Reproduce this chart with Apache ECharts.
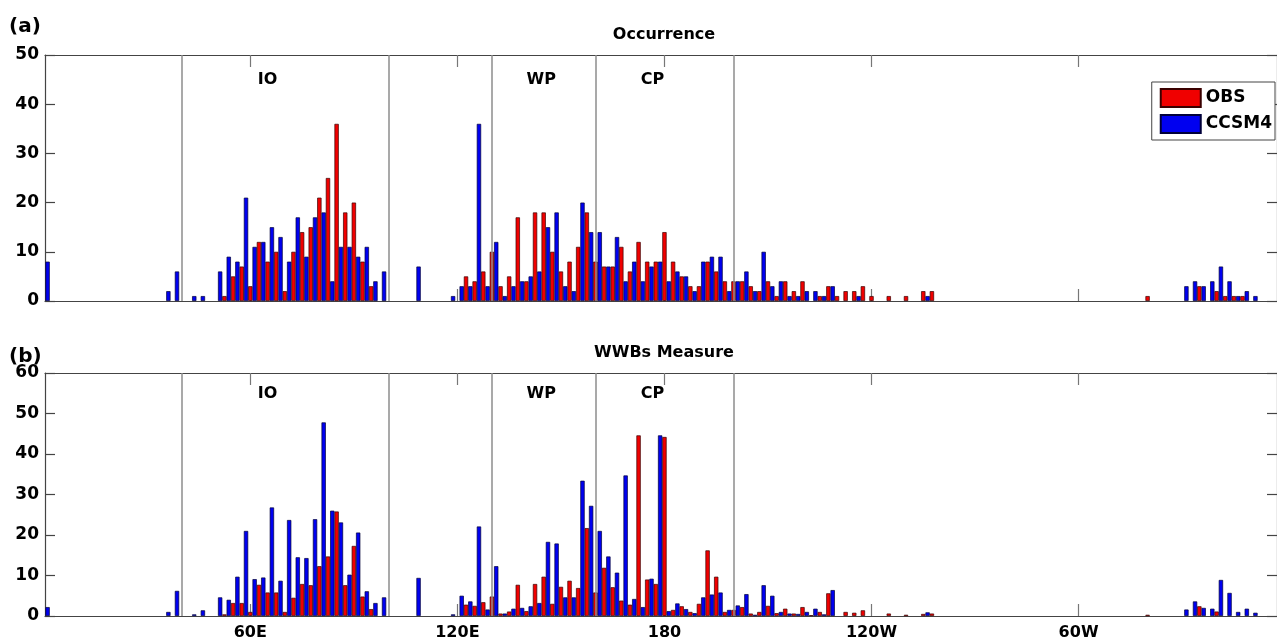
<!DOCTYPE html>
<html>
<head>
<meta charset="utf-8">
<script src="https://cdn.jsdelivr.net/npm/echarts@6/dist/echarts.min.js"></script>
<style>
  html, body { margin: 0; padding: 0; background: #fff; }
  #chart { width: 1277px; height: 641px; }
</style>
</head>
<body>
<div id="chart"></div>
<script>
// Longitude bins: 2.5 degree wide, first bin starts at 0E, 144 bins round the globe.
const binStart = 0;
const binStep = 2.5;

// x-axis ticks (degrees east) and their labels
const tickValues = [60, 120, 180, 240, 300];
const tickLabels = ['60E', '120E', '180', '120W', '60W'];

// Region boundaries (degrees east) and region names
const regionBounds = [40, 100, 130, 160, 200];
const regionNames = ['IO', 'WP', 'CP'];

// (a) Occurrence, observations, one value per bin (12 bins = 30 degrees per row)
const occObs = [
  0, 0, 0, 0, 0, 0, 0, 0, 0, 0, 0, 0,
  0, 0, 0, 0, 0, 0, 0, 0, 0, 1, 5, 7,
  3, 12, 8, 10, 2, 10, 14, 15, 21, 25, 36, 18,
  20, 8, 3, 0, 0, 0, 0, 0, 0, 0, 0, 0,
  0, 5, 4, 6, 10, 3, 5, 17, 4, 18, 18, 10,
  6, 8, 11, 18, 8, 7, 7, 11, 6, 12, 8, 8,
  14, 8, 5, 3, 3, 8, 6, 4, 4, 4, 3, 2,
  4, 1, 4, 2, 4, 0, 1, 3, 1, 2, 2, 3,
  1, 0, 1, 0, 1, 0, 2, 2, 0, 0, 0, 0,
  0, 0, 0, 0, 0, 0, 0, 0, 0, 0, 0, 0,
  0, 0, 0, 0, 0, 0, 0, 0, 1, 0, 0, 0,
  0, 0, 3, 0, 2, 1, 1, 1, 0, 0, 0, 0
];

// (a) Occurrence, CCSM4
const occCcsm = [
  8, 0, 0, 0, 0, 0, 0, 0, 0, 0, 0, 0,
  0, 0, 2, 6, 0, 1, 1, 0, 6, 9, 8, 21,
  11, 12, 15, 13, 8, 17, 9, 17, 18, 4, 11, 11,
  9, 11, 4, 6, 0, 0, 0, 7, 0, 0, 0, 1,
  3, 3, 36, 3, 12, 1, 3, 4, 5, 6, 15, 18,
  3, 2, 20, 14, 14, 7, 13, 4, 8, 4, 7, 8,
  4, 6, 5, 2, 8, 9, 9, 2, 4, 6, 2, 10,
  3, 4, 1, 1, 2, 2, 1, 3, 0, 0, 1, 0,
  0, 0, 0, 0, 0, 0, 1, 0, 0, 0, 0, 0,
  0, 0, 0, 0, 0, 0, 0, 0, 0, 0, 0, 0,
  0, 0, 0, 0, 0, 0, 0, 0, 0, 0, 0, 0,
  3, 4, 3, 4, 7, 4, 1, 2, 1, 0, 0, 0
];

// (b) WWBs measure, observations
const wwbObs = [
  0, 0, 0, 0, 0, 0, 0, 0, 0, 0, 0, 0,
  0, 0, 0, 0, 0, 0, 0, 0, 0, 0.4, 3.2, 3.2,
  1.0, 7.7, 5.8, 5.8, 1.0, 4.5, 7.9, 7.6, 12.3, 14.7, 25.8, 7.6,
  17.3, 4.8, 1.7, 0, 0, 0, 0, 0, 0, 0, 0, 0,
  0, 2.8, 2.5, 3.4, 4.8, 0.6, 1.1, 7.7, 1.2, 7.9, 9.7, 3.0,
  7.2, 8.7, 6.9, 21.7, 5.8, 11.9, 7.1, 3.8, 2.8, 44.6, 9.0, 7.9,
  44.2, 1.5, 2.4, 1.0, 3.0, 16.2, 9.7, 1.0, 1.5, 2.2, 0.6, 1.0,
  2.5, 0.7, 1.8, 0.6, 2.2, 0.2, 1.0, 5.6, 0, 1.0, 0.8, 1.4,
  0, 0, 0.6, 0, 0.3, 0, 0.5, 0.6, 0, 0, 0, 0,
  0, 0, 0, 0, 0, 0, 0, 0, 0, 0, 0, 0,
  0, 0, 0, 0, 0, 0, 0, 0, 0.3, 0, 0, 0,
  0, 0, 2.4, 0, 1.1, 0, 0, 0, 0, 0, 0, 0
];

// (b) WWBs measure, CCSM4
const wwbCcsm = [
  2.2, 0, 0, 0, 0, 0, 0, 0, 0, 0, 0, 0,
  0, 0, 1.0, 6.2, 0, 0.4, 1.4, 0, 4.6, 4.0, 9.7, 21.0,
  9.1, 9.5, 26.8, 8.7, 23.7, 14.5, 14.3, 23.9, 47.8, 26.0, 23.1, 10.2,
  20.6, 6.1, 3.2, 4.6, 0, 0, 0, 9.4, 0, 0, 0, 0.4,
  5.0, 3.6, 22.1, 1.6, 12.3, 0.6, 1.8, 2.0, 2.4, 3.2, 18.3, 17.9,
  4.6, 4.6, 33.4, 27.2, 21.0, 14.7, 10.7, 34.7, 4.2, 2.2, 9.2, 44.6,
  1.2, 3.1, 1.7, 0.7, 4.6, 5.3, 5.8, 1.5, 2.6, 5.4, 0.3, 7.6,
  5.0, 1.0, 0.6, 0.5, 1.0, 1.8, 0.4, 6.4, 0, 0, 0, 0,
  0, 0, 0, 0, 0, 0, 0.9, 0, 0, 0, 0, 0,
  0, 0, 0, 0, 0, 0, 0, 0, 0, 0, 0, 0,
  0, 0, 0, 0, 0, 0, 0, 0, 0, 0, 0, 0,
  1.6, 3.6, 2.0, 1.8, 8.9, 5.7, 1.0, 1.8, 0.8, 0, 0, 0
];

// ---- layout / styling ----
const FONT = '"DejaVu Sans", "Liberation Sans", Arial, sans-serif';
const X_MIN = 0.5, X_MAX = 357.5;
const AXIS_COLOR = '#444';
const TICK_COLOR = '#777';
const panels = [
  { title: 'Occurrence', tag: '(a)', obs: occObs, ccsm: occCcsm, yMax: 50,
    top: 55, height: 246, titleY: 35, tagY: 27, labelY: 45, showXLabels: false },
  { title: 'WWBs Measure', tag: '(b)', obs: wwbObs, ccsm: wwbCcsm, yMax: 60,
    top: 373, height: 246, titleY: 353, tagY: 357, labelY: 54.8, showXLabels: true }
];
// region label anchors (degrees east)
const regionLabelLon = [65, 144.3, 176.5];

// Each bin pair is placed so the OBS bar sits on the bin start and the CCSM4 bar just east of it.
function toSeriesData(values) {
  return values.map((v, i) => [binStart + i * binStep + binStep / 4, v > 0 ? v : '-']);
}

const grids = [], xAxes = [], yAxes = [], series = [], graphics = [];

panels.forEach((p, gi) => {
  grids.push({ left: 45, top: p.top, width: 1237.7, height: p.height, containLabel: false });

  // bottom axis (ticks + labels)
  xAxes.push({
    type: 'value', gridIndex: gi, position: 'bottom', min: X_MIN, max: X_MAX,
    splitLine: { show: false },
    axisLine: { show: true, onZero: false, lineStyle: { color: AXIS_COLOR, width: 1.2 } },
    axisTick: { show: true, inside: true, length: 12, customValues: tickValues,
                lineStyle: { color: TICK_COLOR, width: 1.2 } },
    axisLabel: { show: p.showXLabels, customValues: tickValues, margin: 9,
                 formatter: v => tickLabels[tickValues.indexOf(v)],
                 color: '#000', fontFamily: FONT, fontWeight: 'bold', fontSize: 16 }
  });
  // top frame axis
  xAxes.push({
    type: 'value', gridIndex: gi, position: 'top', min: X_MIN, max: X_MAX,
    splitLine: { show: false },
    axisLine: { show: true, onZero: false, lineStyle: { color: AXIS_COLOR, width: 1.2 } },
    axisTick: { show: true, inside: true, length: 12, customValues: tickValues,
                lineStyle: { color: TICK_COLOR, width: 1.2 } },
    axisLabel: { show: false }
  });
  // left axis
  yAxes.push({
    type: 'value', gridIndex: gi, position: 'left', min: 0, max: p.yMax, interval: 10,
    splitLine: { show: false },
    axisLine: { show: true, onZero: false, lineStyle: { color: AXIS_COLOR, width: 1.2 } },
    axisTick: { show: true, inside: true, length: 10, lineStyle: { color: AXIS_COLOR, width: 1.2 } },
    axisLabel: { margin: 6, color: '#000', fontFamily: FONT, fontWeight: 'bold', fontSize: 17 }
  });
  // right frame axis
  yAxes.push({
    type: 'value', gridIndex: gi, position: 'right', min: 0, max: p.yMax, interval: 10,
    splitLine: { show: false },
    axisLine: { show: true, onZero: false, lineStyle: { color: AXIS_COLOR, width: 1.2 } },
    axisTick: { show: true, inside: true, length: 10, lineStyle: { color: AXIS_COLOR, width: 1.2 } },
    axisLabel: { show: false }
  });

  const xi = gi * 2, yi = gi * 2;

  // region boundaries
  series.push({
    type: 'line', xAxisIndex: xi, yAxisIndex: yi, z: 1, silent: true,
    data: [],
    markLine: {
      silent: true, symbol: ['none', 'none'], label: { show: false },
      lineStyle: { color: '#8c8c8c', width: 1.5, type: 'solid' },
      emphasis: { disabled: true },
      data: regionBounds.map(v => ({ xAxis: v }))
    }
  });

  series.push({
    name: 'OBS', type: 'bar', xAxisIndex: xi, yAxisIndex: yi, z: 3,
    barWidth: '50%', barGap: '0%',
    itemStyle: { color: '#f00000', borderColor: '#3a0000', borderWidth: 0.7 },
    data: toSeriesData(p.obs)
  });
  series.push({
    name: 'CCSM4', type: 'bar', xAxisIndex: xi, yAxisIndex: yi, z: 3,
    barWidth: '50%', barGap: '0%',
    itemStyle: { color: '#0000f0', borderColor: '#00003a', borderWidth: 0.7 },
    data: toSeriesData(p.ccsm)
  });

  graphics.push({
    type: 'text', x: 664, y: p.titleY,
    style: { text: p.title, fill: '#000', font: 'bold 16px ' + FONT, align: 'center', verticalAlign: 'middle' }
  });
  graphics.push({
    type: 'text', x: 9, y: p.tagY,
    style: { text: p.tag, fill: '#000', font: 'bold 20px ' + FONT, align: 'left', verticalAlign: 'middle' }
  });
});

const chart = echarts.init(document.getElementById('chart'), null, { renderer: 'canvas' });
chart.setOption({
  animation: false,
  backgroundColor: '#fff',
  grid: grids,
  xAxis: xAxes,
  yAxis: yAxes,
  legend: {
    data: ['OBS', 'CCSM4'], orient: 'vertical', right: 2, top: 82,
    itemWidth: 40, itemHeight: 18, itemGap: 6, padding: [6, 3, 6, 8],
    borderColor: '#444', borderWidth: 1, backgroundColor: '#fff',
    icon: 'rect', selectedMode: false,
    textStyle: { color: '#000', fontFamily: FONT, fontWeight: 'bold', fontSize: 17 }
  },
  graphic: graphics,
  series: series
});

// Region names, placed in data coordinates of each panel
panels.forEach((p, gi) => {
  regionNames.forEach((name, i) => {
    const pt = chart.convertToPixel({ xAxisIndex: gi * 2, yAxisIndex: gi * 2 }, [regionLabelLon[i], p.labelY]);
    graphics.push({
      type: 'text', x: pt[0], y: pt[1], z: 10,
      style: { text: name, fill: '#000', font: 'bold 16px ' + FONT, align: 'center', verticalAlign: 'middle' }
    });
  });
});
chart.setOption({ graphic: graphics });
</script>
</body>
</html>
